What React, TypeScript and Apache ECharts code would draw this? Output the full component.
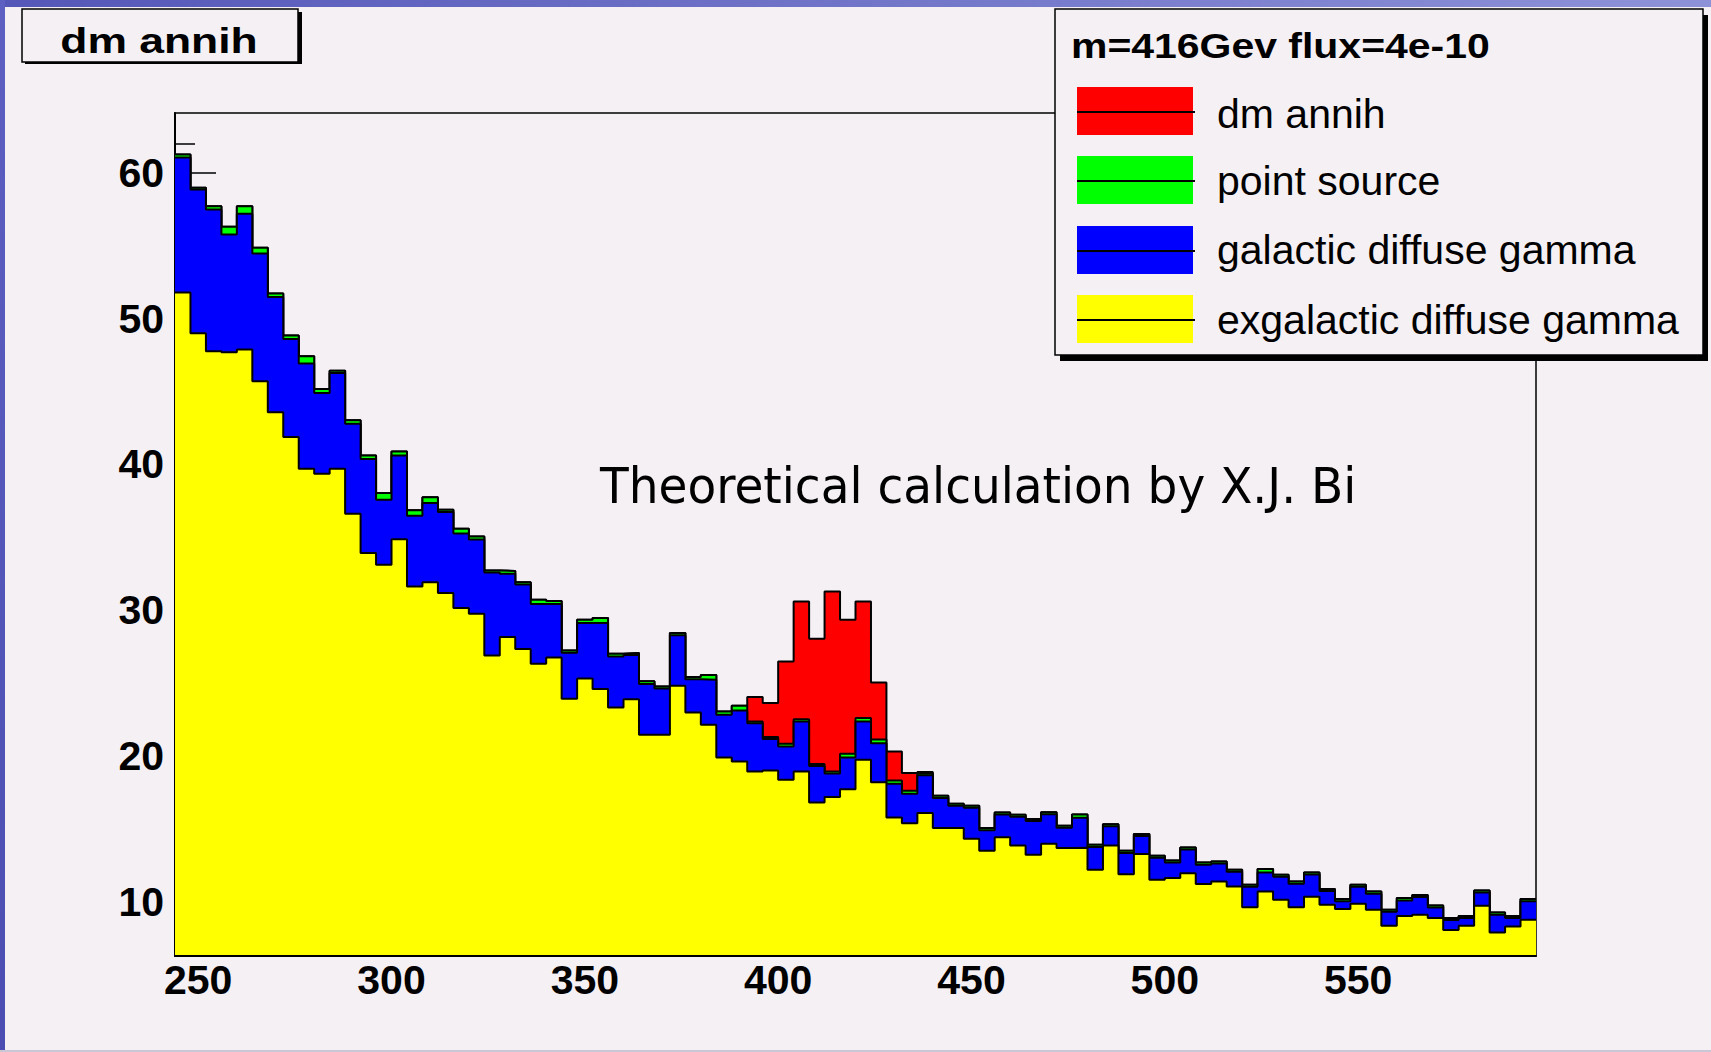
import React, { useEffect, useRef } from "react";
import * as echarts from "echarts";

// Histogram binning: 88 bins of 4 GeV starting at 244 GeV
const binLow = 244;
const binWidth = 4;

// Stacked components, bottom to top (counts per bin)
const exgalactic = [
  51.8, 49.0, 47.76, 47.7, 47.88, 45.7, 43.58, 41.89, 39.7, 39.37,
  39.7, 36.63, 33.93, 33.13, 34.87, 31.64, 31.92, 31.19, 30.16, 29.77,
  26.91, 28.17, 27.35, 26.34, 26.77, 23.94, 25.33, 24.6, 23.33, 23.9,
  21.47, 21.47, 24.83, 23.0, 22.16, 19.91, 19.64, 18.95, 19.02, 18.38,
  18.95, 16.83, 17.2, 17.74, 19.75, 18.22, 15.8, 15.41, 16.1, 15.07,
  15.07, 14.34, 13.51, 14.45, 13.88, 13.24, 13.99, 13.7, 13.72, 12.21,
  13.88, 11.91, 13.29, 11.52, 11.64, 11.98, 11.23, 11.41, 11.06, 9.65,
  10.72, 10.15, 9.65, 10.36, 9.81, 9.52, 9.88, 9.47, 8.37, 9.05,
  9.12, 8.9, 8.09, 8.37, 9.74, 7.91, 8.32, 8.78,
];

const galactic = [
  9.25, 9.85, 9.72, 8.07, 9.31, 8.76, 7.91, 6.72, 7.22, 5.54,
  6.57, 6.17, 6.45, 4.46, 5.74, 4.85, 5.44, 5.56, 5.1, 5.08,
  5.69, 4.34, 4.43, 4.09, 3.66, 3.16, 3.8, 4.53, 3.51, 3.03,
  3.48, 3.17, 3.47, 2.28, 3.08, 2.93, 3.5, 3.3, 2.16, 2.29,
  3.43, 2.49, 1.62, 2.17, 2.63, 2.66, 2.31, 2.01, 2.6, 2.06,
  1.53, 2.12, 1.42, 1.55, 1.96, 2.31, 2.03, 1.39, 2.06, 1.57,
  1.32, 1.46, 1.23, 1.51, 1.07, 1.62, 1.32, 1.23, 1.01, 1.39,
  1.31, 1.58, 1.6, 1.53, 0.94, 0.54, 1.16, 1.09, 0.96, 1.06,
  1.23, 0.72, 0.67, 0.54, 0.91, 1.21, 0.59, 1.28,
];

const pointSource = [
  0.2, 0.12, 0.23, 0.53, 0.52, 0.4, 0.23, 0.23, 0.5, 0.27,
  0.15, 0.23, 0.23, 0.46, 0.28, 0.37, 0.39, 0.15, 0.34, 0.22,
  0.14, 0.19, 0.14, 0.3, 0.21, 0.15, 0.23, 0.34, 0.19, 0.14,
  0.18, 0.14, 0.15, 0.15, 0.33, 0.23, 0.32, 0.13, 0.13, 0.18,
  0.16, 0.14, 0.13, 0.26, 0.23, 0.27, 0.22, 0.21, 0.12, 0.15,
  0.14, 0.14, 0.14, 0.14, 0.14, 0.14, 0.14, 0.14, 0.22, 0.14,
  0.14, 0.14, 0.14, 0.14, 0.14, 0.14, 0.16, 0.14, 0.14, 0.14,
  0.23, 0.14, 0.16, 0.14, 0.14, 0.14, 0.14, 0.16, 0.14, 0.16,
  0.14, 0.14, 0.14, 0.14, 0.14, 0.16, 0.14, 0.14,
];

const dmAnnih = [
  0, 0, 0, 0, 0, 0, 0, 0, 0, 0,
  0, 0, 0, 0, 0, 0, 0, 0, 0, 0,
  0, 0, 0, 0, 0, 0, 0, 0, 0, 0,
  0, 0, 0, 0, 0, 0, 0, 1.68, 2.33, 5.65,
  8.07, 8.59, 12.35, 9.19, 8.0, 3.9, 1.99, 1.21, 0.1, 0,
  0, 0, 0, 0, 0, 0, 0, 0, 0, 0,
  0, 0, 0, 0, 0, 0, 0, 0, 0, 0,
  0, 0, 0, 0, 0, 0, 0, 0, 0, 0,
  0, 0, 0, 0, 0, 0, 0, 0,
];

const xTickValues = [250, 300, 350, 400, 450, 500, 550];
const yTickValues = [10, 20, 30, 40, 50, 60];
const yMinorTickValues = [8, 12, 14, 16, 18, 22, 24, 26, 28, 32, 34, 36, 38, 42, 44, 46, 48, 52, 54, 56, 58, 62];

const legendTitle = "m=416Gev flux=4e-10";
const histTitle = "dm annih";
const note = "Theoretical calculation by X.J. Bi";

// Legend entries, top to bottom
const legendNames = ["dm annih", "point source", "galactic diffuse gamma", "exgalactic diffuse gamma"];
const legendColors = ["#ff0000", "#00ff00", "#0000ff", "#ffff00"];

const PAD = "#f4f0f4";
const HELV = "'Liberation Sans', Arial, Helvetica, sans-serif";

// Running sums, the way a stacked histogram draws each level down to the axis
function cumulative(...layers: number[][]) {
  return layers[0].map((_, i) => layers.reduce((s, l) => s + l[i], 0));
}

function stepData(vals: number[]) {
  const pts: number[][] = vals.map((v, i) => [binLow + i * binWidth, v]);
  pts.push([binLow + vals.length * binWidth, vals[vals.length - 1]]);
  return pts;
}

function histSeries(name: string, vals: number[], color: string, z: number) {
  return {
    name,
    type: "line",
    step: "end",
    data: stepData(vals),
    symbol: "none",
    showSymbol: false,
    silent: true,
    z,
    lineStyle: { color: "#000", width: 2 },
    areaStyle: { color, opacity: 1, origin: "start" },
    itemStyle: { color },
    emphasis: { disabled: true },
  };
}

function buildOption() {
  const lvlExgal = cumulative(exgalactic);
  const lvlGal = cumulative(exgalactic, galactic);
  const lvlPs = cumulative(exgalactic, galactic, pointSource);
  const lvlDm = cumulative(exgalactic, galactic, pointSource, dmAnnih);

  const swatchTops = [87, 156, 226, 295];
  const labelCenters = [114, 181, 250, 320];
  const legendGraphics: any[] = [];
  legendNames.forEach((name, i) => {
    const top = swatchTops[i];
    legendGraphics.push(
      { type: "rect", shape: { x: 1077, y: top, width: 116, height: 48 }, style: { fill: legendColors[i] }, z: 102 },
      { type: "line", shape: { x1: 1077, y1: top + 25, x2: 1195, y2: top + 25 }, style: { stroke: "#000", lineWidth: 2 }, z: 103 },
      {
        type: "text",
        x: 1217,
        y: labelCenters[i],
        style: { text: name, fill: "#000", font: `41px ${HELV}`, textAlign: "left", textVerticalAlign: "middle" },
        z: 103,
      }
    );
  });

  return {
    animation: false,
    backgroundColor: PAD,
    grid: {
      left: 175,
      right: 175,
      top: 113,
      bottom: 96,
      show: true,
      borderColor: "#000",
      borderWidth: 1.5,
      backgroundColor: "transparent",
      outerBoundsMode: "none",
    },
    xAxis: {
      type: "value",
      min: binLow,
      max: binLow + exgalactic.length * binWidth,
      z: 10,
      axisLine: { show: true, onZero: false, lineStyle: { color: "#000", width: 2 } },
      axisTick: { show: false },
      splitLine: { show: false },
      axisLabel: {
        customValues: xTickValues,
        fontSize: 41,
        fontWeight: "bold",
        fontFamily: HELV,
        color: "#000",
        margin: 3,
      },
    },
    yAxis: [
      {
        type: "value",
        min: 6.3,
        max: 64.1,
        axisLine: { show: true, onZero: false, lineStyle: { color: "#000", width: 2 } },
        axisTick: { show: true, inside: true, length: 41, customValues: yTickValues, lineStyle: { color: "#000", width: 1.5 } },
        splitLine: { show: false },
        axisLabel: {
          customValues: yTickValues,
          fontSize: 41,
          fontWeight: "bold",
          fontFamily: HELV,
          color: "#000",
          margin: 11,
        },
      },
      {
        type: "value",
        min: 6.3,
        max: 64.1,
        position: "left",
        axisLine: { show: false },
        axisLabel: { show: false },
        splitLine: { show: false },
        axisTick: { show: true, inside: true, length: 20, customValues: yMinorTickValues, lineStyle: { color: "#000", width: 1.5 } },
      },
    ],
    series: [
      histSeries("dm annih", lvlDm, legendColors[0], 3),
      histSeries("point source", lvlPs, legendColors[1], 4),
      histSeries("galactic diffuse gamma", lvlGal, legendColors[2], 5),
      histSeries("exgalactic diffuse gamma", lvlExgal, legendColors[3], 6),
    ],
    graphic: [
      // slide border
      {
        type: "rect",
        shape: { x: 0, y: 0, width: 1711, height: 7 },
        style: {
          fill: { type: "linear", x: 0, y: 0, x2: 1, y2: 0, colorStops: [{ offset: 0, color: "#5557b8" }, { offset: 1, color: "#8d92d8" }] },
        },
        z: 120,
      },
      {
        type: "rect",
        shape: { x: 0, y: 0, width: 5, height: 1052 },
        style: {
          fill: { type: "linear", x: 0, y: 0, x2: 0, y2: 1, colorStops: [{ offset: 0, color: "#5d60c0" }, { offset: 1, color: "#4b4db2" }] },
        },
        z: 120,
      },
      { type: "rect", shape: { x: 0, y: 1050, width: 1711, height: 2 }, style: { fill: "#c9c6d6" }, z: 120 },
      // histogram title box
      { type: "rect", shape: { x: 25, y: 12, width: 277, height: 52 }, style: { fill: "#000" }, z: 100 },
      { type: "rect", shape: { x: 22, y: 9, width: 276, height: 53 }, style: { fill: PAD, stroke: "#000", lineWidth: 1.5 }, z: 101 },
      {
        type: "text",
        x: 159,
        y: 41,
        scaleX: 1.27,
        style: { text: histTitle, fill: "#000", font: `bold 35px ${HELV}`, textAlign: "center", textVerticalAlign: "middle" },
        z: 102,
      },
      // legend box
      { type: "rect", shape: { x: 1060, y: 15, width: 648, height: 346 }, style: { fill: "#000" }, z: 100 },
      { type: "rect", shape: { x: 1055, y: 9, width: 648, height: 346 }, style: { fill: PAD, stroke: "#000", lineWidth: 1.5 }, z: 101 },
      {
        type: "text",
        x: 1071,
        y: 46,
        scaleX: 1.17,
        style: { text: legendTitle, fill: "#000", font: `bold 35px ${HELV}`, textAlign: "left", textVerticalAlign: "middle" },
        z: 102,
      },
      ...legendGraphics,
      // annotation
      {
        type: "text",
        x: 600,
        y: 485,
        scaleX: 0.94,
        style: { text: note, fill: "#000", font: `50px 'DejaVu Sans', Verdana, sans-serif`, textAlign: "left", textVerticalAlign: "middle" },
        z: 102,
      },
    ],
  };
}

export default function App() {
  const ref = useRef<HTMLDivElement>(null);
  useEffect(() => {
    document.body.style.margin = "0";
    const chart = echarts.init(ref.current as HTMLDivElement, null, { renderer: "svg" });
    chart.setOption(buildOption() as any);
    return () => chart.dispose();
  }, []);
  return <div ref={ref} style={{ position: "absolute", left: 0, top: 0, width: 1711, height: 1052 }} />;
}
